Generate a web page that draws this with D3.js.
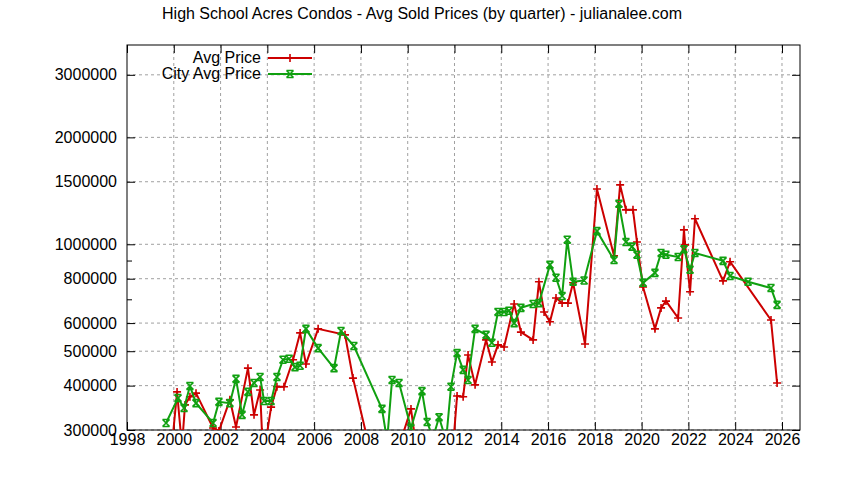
<!DOCTYPE html>
<html><head><meta charset="utf-8">
<script src="https://cdn.jsdelivr.net/npm/d3@7"></script>
<style>body{margin:0;background:#fff}text{font-family:"Liberation Sans",Arial,sans-serif}</style>
</head><body><svg id="c" width="844" height="480"></svg>
<script>
const title = "High School Acres Condos - Avg Sold Prices (by quarter) - julianalee.com";
const seriesNames = ["Avg Price", "City Avg Price"];
const avgYears = [1999.92,2000.14,2000.35,2000.48,2000.69,2000.95,2001.68,2001.93,2002.40,2002.66,2003.17,2003.43,2003.69,2003.77,2003.9,2004.16,2004.41,2004.71,2005.10,2005.40,2005.65,2006.17,2007.32,2007.66,2008.47,2009.12,2009.63,2010.14,2010.36,2011.94,2012.11,2012.37,2012.58,2012.88,2013.35,2013.60,2013.86,2014.12,2014.55,2014.84,2015.36,2015.61,2015.83,2016.08,2016.34,2016.60,2016.85,2017.07,2017.58,2018.09,2018.82,2019.08,2019.33,2019.63,2019.80,2020.06,2020.57,2020.83,2021.04,2021.56,2021.81,2021.86,2022.07,2022.28,2023.48,2023.78,2025.53,2025.79];
const avgValues = [270000,384000,270000,353000,372000,381000,304000,298000,365000,306000,448000,331000,389000,296000,270000,348000,397000,397000,473000,563000,460000,578000,556000,420000,250000,270000,270000,344000,270000,270000,374000,372000,488000,402000,538000,466000,521000,514000,679000,566000,538000,784000,645000,605000,706000,683000,683000,779000,524000,1431000,928000,1470000,1250000,1250000,1015000,758000,578000,662000,692000,620000,1098000,996000,735000,1180000,789000,893000,612000,407000];
const cityYears = [1999.67,2000.18,2000.44,2000.69,2000.95,2001.68,2001.93,2002.40,2002.66,2002.92,2003.17,2003.43,2003.69,2003.86,2004.16,2004.41,2004.67,2004.93,2005.18,2005.40,2005.65,2006.17,2006.85,2007.15,2007.70,2008.90,2009.12,2009.33,2009.63,2010.14,2010.61,2010.83,2011.08,2011.34,2011.64,2011.85,2012.11,2012.37,2012.58,2012.88,2013.35,2013.60,2013.86,2014.12,2014.33,2014.55,2014.84,2015.36,2015.61,2016.08,2016.34,2016.60,2016.82,2017.07,2017.54,2018.09,2018.82,2019.03,2019.33,2019.59,2019.80,2020.06,2020.57,2020.83,2021.04,2021.56,2021.81,2022.07,2022.28,2023.48,2023.78,2024.55,2025.53,2025.79];
const cityValues = [314000,369000,346000,399000,357000,314000,360000,357000,418000,331000,384000,407000,423000,362000,362000,423000,473000,476000,451000,455000,578000,510000,448000,570000,517000,344000,280000,415000,407000,304000,386000,316000,285000,326000,280000,397000,494000,443000,415000,578000,556000,528000,645000,645000,650000,600000,662000,679000,683000,875000,805000,715000,1030000,784000,791000,1089000,903000,1300000,1015000,985000,934000,779000,831000,945000,934000,921000,968000,848000,945000,898000,814000,784000,753000,675000];
const yTicks = [300000,400000,500000,600000,800000,1000000,1500000,2000000,3000000];
const yMinor = [700000,900000];
const xTicks = [1998,2000,2002,2004,2006,2008,2010,2012,2014,2016,2018,2020,2022,2024,2026];
const colors = ["#cc0000","#10a010"];

const svg = d3.select("#c");
const L=127,R=800,T=45,B=430;
const x = d3.scaleLinear().domain([1998,2026.77]).range([L,R]);
const y = d3.scaleLog().domain([300000,3640000]).range([B,T]);
svg.append("text").attr("x",422).attr("y",19).attr("text-anchor","middle").attr("font-size",16).text(title);
const g = svg.append("g");
g.selectAll(".gy").data(yTicks).join("line").attr("x1",L).attr("x2",R).attr("y1",d=>y(d)).attr("y2",d=>y(d))
 .attr("stroke","#a0a0a0").attr("stroke-dasharray","3,3");
g.selectAll(".gx").data(xTicks.slice(1)).join("line").attr("y1",T).attr("y2",B).attr("x1",d=>x(d)).attr("x2",d=>x(d))
 .attr("stroke","#a0a0a0").attr("stroke-dasharray","3,3");
svg.append("g").attr("transform",`translate(0,${B})`).call(d3.axisBottom(x).tickValues(xTicks).tickFormat(d3.format("d")).tickSizeInner(-8).tickSizeOuter(0).tickPadding(4));
svg.append("g").attr("transform",`translate(${L},0)`).call(d3.axisLeft(y).tickValues(yTicks).tickFormat(d3.format("d")).tickSizeInner(-8).tickSizeOuter(0).tickPadding(10));
svg.append("g").attr("transform",`translate(${R},0)`).call(d3.axisRight(y).tickValues(yTicks.concat(yMinor)).tickFormat("").tickSizeInner(-8).tickSizeOuter(0));
svg.append("g").call(d3.axisLeft(y).tickValues(yMinor).tickFormat("").tickSizeInner(-5).tickSizeOuter(0)).attr("transform",`translate(${L},0)`);
svg.append("g").attr("transform",`translate(0,${T})`).call(d3.axisTop(x).tickValues(xTicks).tickFormat("").tickSizeInner(-8).tickSizeOuter(0));
svg.selectAll(".domain").remove();
svg.selectAll(".tick text").attr("font-size",16).attr("font-family","Liberation Sans, Arial, sans-serif").attr("fill","#000");
svg.selectAll(".tick line").attr("stroke","#000");
svg.append("rect").attr("x",L).attr("y",T).attr("width",R-L).attr("height",B-T).attr("fill","none").attr("stroke","#000");
svg.append("clipPath").attr("id","cp").append("rect").attr("x",L).attr("y",T).attr("width",R-L).attr("height",B-T);
const plot = svg.append("g").attr("clip-path","url(#cp)");
const line = d3.line().x(d=>x(d[0])).y(d=>y(d[1]));
function draw(ys,vs,c,kind){
  const pts = ys.map((yr,i)=>[yr,vs[i]]);
  plot.append("path").datum(pts).attr("d",line).attr("fill","none").attr("stroke",c).attr("stroke-width",2);
  plot.selectAll(null).data(pts).join("path").attr("transform",d=>`translate(${x(d[0])},${y(d[1])})`)
    .attr("stroke",c).attr("stroke-width",1.6).attr("fill","none")
    .attr("d", kind==="plus" ? "M-4,0H4M0,-4V4" : "M-3.5,-3.5L3.5,3.5M-3.5,3.5L3.5,-3.5M-3.5,-3.5H3.5M-3.5,3.5H3.5");
}
draw(avgYears,avgValues,colors[0],"plus");
draw(cityYears,cityValues,colors[1],"x");
seriesNames.forEach((n,i)=>{
  const yy = 58+i*16;
  svg.append("text").attr("x",261).attr("y",yy+5).attr("text-anchor","end").attr("font-size",16).text(n);
  svg.append("line").attr("x1",268).attr("x2",312).attr("y1",yy).attr("y2",yy).attr("stroke",colors[i]).attr("stroke-width",2);
  svg.append("path").attr("transform",`translate(290,${yy})`).attr("stroke",colors[i]).attr("stroke-width",1.6).attr("fill","none")
    .attr("d", i===0 ? "M-4,0H4M0,-4V4" : "M-3.5,-3.5L3.5,3.5M-3.5,3.5L3.5,-3.5M-3.5,-3.5H3.5M-3.5,3.5H3.5");
});
</script></body></html>
